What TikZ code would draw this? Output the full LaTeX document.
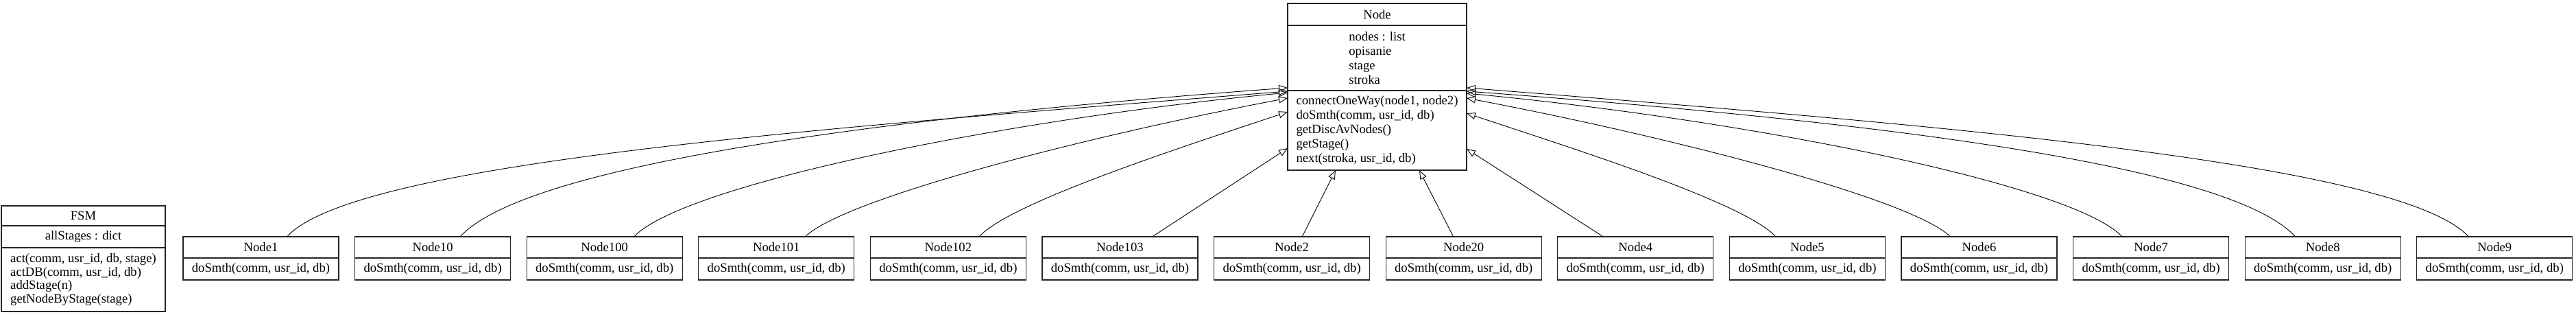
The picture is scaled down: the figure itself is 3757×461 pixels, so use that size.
\documentclass[tikz,border=0pt]{standalone}
\usepackage{fontspec}
\setmainfont{Liberation Serif}
\usetikzlibrary{arrows.meta, positioning}

\begin{document}
\begin{tikzpicture}[x=1pt, y=-1pt,
    cls/.style={draw=black!85, line width=1.1pt, inner sep=0pt, outer sep=0pt,
      align=left, anchor=north, font=\fontsize{18.67}{21}\selectfont},
    inh/.style={line width=0.9pt, -{Triangle[open, length=13pt, width=10pt]}}]
  \useasboundingbox (0,0) rectangle (3757,461);

  % FSM class, on its own
  \node[cls, minimum width=239pt, minimum height=29pt] (fsmT) at (121.5,300) {FSM};
  \node[cls, minimum width=239pt, minimum height=32pt, below=0pt of fsmT] (fsmA) {allStages : dict};
  \node[cls, minimum width=239pt, minimum height=93pt, below=0pt of fsmA, font=\fontsize{18.67}{19.5}\selectfont] (fsmM)
    {act(comm, usr\_id, db, stage)\\actDB(comm, usr\_id, db)\\addStage(n)\\getNodeByStage(stage)};

  % base class Node
  \node[cls, minimum width=261pt, minimum height=32pt] (nodeT) at (2008.5,5) {Node};
  \node[cls, minimum width=261pt, minimum height=95pt, below=0pt of nodeT] (nodeA)
    {nodes : list\\opisanie\\stage\\stroka};
  \node[cls, minimum width=261pt, minimum height=116pt, below=0pt of nodeA] (nodeM)
    {connectOneWay(node1, node2)\\doSmth(comm, usr\_id, db)\\getDiscAvNodes()\\getStage()\\next(stroka, usr\_id, db)};

  % subclasses in one row
  \foreach \nm [count=\i from 0] in {1,10,100,101,102,103,2,20,4,5,6,7,8,9} {
    \node[cls, minimum width=227pt, minimum height=31pt] (c\nm) at (380.5+250.6*\i,345) {Node\nm};
    \node[cls, minimum width=227pt, minimum height=32pt, below=0pt of c\nm] (c\nm-m) {doSmth(comm, usr\_id, db)};
  }

  % inheritance, left side
  \draw[inh] ([xshift=40pt]c10.north) .. controls +(100,-110) and +(-544,40) .. ([yshift=4pt]nodeA.south west);
  \draw[inh] ([xshift=38pt]c1.north) .. controls +(100,-110) and +(-657,52) .. ([yshift=-1pt]nodeM.north west);
  \draw[inh] ([xshift=43pt]c100.north) .. controls +(70,-75) and +(-420,40) .. ([yshift=-3pt]nodeM.north west);
  \draw[inh] ([xshift=42pt]c101.north) .. controls +(56,-55) and +(-300,57) .. ([yshift=-11pt]nodeM.north west);
  \draw[inh] ([xshift=45pt]c102.north) .. controls +(45,-50) and +(-150,50) .. ([yshift=-31pt]nodeM.north west);
  \draw[inh] ([xshift=47pt]c103.north) -- ([yshift=-84pt]nodeM.north west);
  % below
  \draw[inh] ([xshift=15pt]c2.north) -- ([xshift=70pt]nodeM.south west);
  \draw[inh] ([xshift=-15pt]c20.north) -- ([xshift=-69pt]nodeM.south east);
  % right side
  \draw[inh] ([xshift=-47pt]c4.north) -- ([yshift=-85pt]nodeM.north east);
  \draw[inh] ([xshift=-46pt]c5.north) .. controls +(-45,-50) and +(150,50) .. ([yshift=-33pt]nodeM.north east);
  \draw[inh] ([xshift=-42pt]c6.north) .. controls +(-56,-55) and +(300,57) .. ([yshift=-11pt]nodeM.north east);
  \draw[inh] ([xshift=-42pt]c7.north) .. controls +(-70,-75) and +(420,40) .. ([yshift=-4pt]nodeM.north east);
  \draw[inh] ([xshift=-40pt]c8.north) .. controls +(-100,-110) and +(544,40) .. ([yshift=-1pt]nodeM.north east);
  \draw[inh] ([xshift=-38pt]c9.north) .. controls +(-100,-110) and +(657,52) .. ([yshift=4pt]nodeA.south east);
\end{tikzpicture}
\end{document}
